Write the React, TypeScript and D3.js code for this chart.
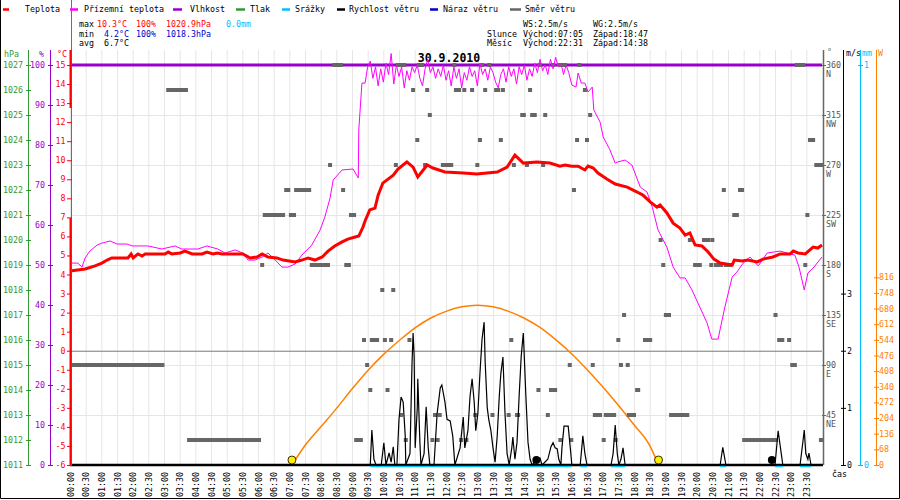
import React from 'react';
import * as d3 from 'd3';

// ---- data (time "HH:MM", value) ----
const tempData: [string, number][] = [
  ['00:00', 4.18], ['00:29', 4.29], ['00:48', 4.45], ['01:01', 4.6], ['01:11', 4.76], ['01:20', 4.87],
  ['01:51', 4.87], ['01:57', 5.08], ['02:01', 4.87], ['02:10', 5.08], ['02:18', 4.97], ['02:24', 5.08],
  ['03:02', 5.08], ['03:08', 5.18], ['03:15', 5.08], ['03:31', 5.13], ['03:40', 5.23], ['03:54', 5.08],
  ['04:13', 5.08], ['04:22', 5.18], ['04:34', 5.08], ['04:42', 5.13], ['04:51', 5.08], ['05:31', 5.08],
  ['05:45', 4.87], ['05:58', 4.92], ['06:08', 5.08], ['06:19', 4.92], ['06:36', 4.87], ['06:48', 4.76],
  ['07:11', 4.66], ['07:24', 4.76], ['07:36', 4.87], ['07:49', 4.76], ['08:03', 4.92], ['08:14', 5.23],
  ['08:27', 5.5], ['08:41', 5.71], ['08:52', 5.86], ['09:06', 5.97], ['09:13', 6.02], ['09:21', 6.49],
  ['09:25', 6.81], ['09:34', 7.39], ['09:44', 7.49], ['09:50', 8.17], ['09:59', 8.8], ['10:19', 9.22],
  ['10:28', 9.54], ['10:45', 9.91], ['10:57', 9.64], ['11:06', 9.12], ['11:24', 9.75], ['11:35', 9.59],
  ['11:58', 9.38], ['12:33', 9.33], ['12:59', 9.28], ['13:38', 9.38], ['13:57', 9.64], ['14:12', 10.27],
  ['14:28', 9.85], ['14:54', 9.91], ['15:19', 9.85], ['15:38', 9.69], ['15:48', 9.75], ['16:01', 9.69],
  ['16:13', 9.69], ['16:26', 9.49], ['16:32', 9.69], ['16:42', 9.59], ['16:51', 9.33], ['17:08', 9.01],
  ['17:24', 8.75], ['17:47', 8.59], ['18:06', 8.33], ['18:17', 8.17], ['18:31', 7.81], ['18:44', 7.54],
  ['18:50', 7.65], ['19:03', 7.23], ['19:15', 6.7], ['19:28', 6.44], ['19:38', 6.07], ['19:47', 6.18],
  ['19:57', 5.55], ['20:10', 5.5], ['20:22', 5.18], ['20:33', 4.81], ['20:45', 4.6], ['21:08', 4.5],
  ['21:12', 4.76], ['21:27', 4.71], ['21:38', 4.76], ['21:56', 4.66], ['22:07', 4.81], ['22:26', 4.92],
  ['22:40', 5.08], ['22:59', 5.08], ['23:05', 5.23], ['23:14', 5.13], ['23:28', 5.08], ['23:43', 5.44],
  ['23:52', 5.39], ['24:00', 5.55],
];

const groundTempData: [string, number][] = [
  ['00:00', 4.6], ['00:15', 4.6], ['00:23', 4.39], ['00:29', 4.87], ['00:38', 5.23], ['00:52', 5.55],
  ['01:01', 5.65], ['01:17', 5.76], ['01:30', 5.6], ['01:49', 5.6], ['01:59', 5.5], ['02:29', 5.5],
  ['02:56', 5.34], ['03:21', 5.5], ['03:34', 5.34], ['04:05', 5.34], ['04:22', 5.5], ['04:43', 5.34],
  ['04:57', 5.13], ['05:16', 5.29], ['05:31', 5.13], ['05:41', 4.76], ['05:54', 4.76], ['06:08', 4.92],
  ['06:19', 5.13], ['06:33', 4.76], ['06:46', 4.39], ['06:57', 4.39], ['07:11', 4.55], ['07:24', 5.02],
  ['07:43', 5.55], ['07:59', 6.34], ['08:08', 7.02], ['08:18', 8.02], ['08:24', 8.96], ['08:41', 9.49],
  ['09:02', 9.54], ['09:12', 9.07], ['09:13', 11.59], ['09:19', 14.05], ['09:25', 14.05],
  ['09:30', 14.9], ['09:35', 15.2], ['09:40', 14.3], ['09:45', 14.9], ['09:50', 13.9], ['09:55', 14.8],
  ['10:00', 14.1], ['10:05', 15.1], ['10:10', 14.5], ['10:15', 15.6], ['10:20', 14.0], ['10:25', 15.0],
  ['10:30', 14.4], ['10:35', 14.9], ['10:40', 13.8], ['10:45', 14.7], ['10:50', 14.2], ['10:55', 14.9],
  ['11:00', 14.6], ['11:05', 15.0], ['11:10', 14.3], ['11:15', 13.9], ['11:20', 14.8], ['11:25', 15.3],
  ['11:30', 14.6], ['11:35', 14.9], ['11:40', 14.3], ['11:45', 14.8], ['11:50', 14.4], ['11:55', 15.0],
  ['12:00', 14.2], ['12:05', 14.7], ['12:10', 13.9], ['12:15', 14.9], ['12:20', 14.3], ['12:25', 14.8],
  ['12:30', 13.8], ['12:35', 14.6], ['12:40', 14.2], ['12:45', 14.9], ['12:50', 14.4], ['12:55', 14.7],
  ['13:00', 13.9], ['13:05', 15.1], ['13:10', 14.5], ['13:15', 14.8], ['13:20', 14.2], ['13:25', 14.9],
  ['13:30', 14.6], ['13:35', 14.1], ['13:40', 13.8], ['13:45', 14.5], ['13:50', 14.8], ['13:55', 14.1],
  ['14:00', 14.9], ['14:05', 14.4], ['14:10', 14.8], ['14:15', 14.0], ['14:20', 14.9], ['14:25', 14.5],
  ['14:30', 15.0], ['14:35', 14.2], ['14:40', 14.8], ['14:45', 14.4], ['14:50', 15.1], ['14:55', 14.6],
  ['15:00', 15.3], ['15:05', 14.7], ['15:10', 15.0], ['15:15', 14.5], ['15:20', 15.3], ['15:25', 14.8],
  ['15:30', 15.4], ['15:35', 14.9], ['15:40', 15.1], ['15:45', 14.5], ['15:50', 15.0], ['15:55', 14.6],
  ['16:01', 13.95], ['16:09', 13.84], ['16:13', 14.58], ['16:19', 14.05], ['16:26', 14.05], ['16:32', 13.58],
  ['16:40', 13.84], ['16:43', 12.64], ['16:55', 12.01], ['17:01', 11.22], ['17:14', 10.54], ['17:24', 9.85],
  ['17:29', 9.91], ['17:43', 10.01], ['17:56', 9.75], ['18:12', 8.59], ['18:25', 8.33], ['18:35', 7.54],
  ['18:46', 6.34], ['19:03', 5.44], ['19:15', 4.39], ['19:28', 3.82], ['19:38', 3.82], ['19:51', 3.19],
  ['20:06', 2.29], ['20:20', 1.45], ['20:29', 0.61], ['20:41', 0.61], ['20:54', 2.29], ['21:08', 3.87],
  ['21:17', 4.13], ['21:29', 4.6], ['21:42', 4.92], ['21:58', 4.45], ['22:15', 5.13], ['22:40', 5.23],
  ['22:53', 5.13], ['23:08', 5.02], ['23:16', 4.39], ['23:26', 3.19], ['23:33', 4.08], ['23:43', 4.34],
  ['24:00', 4.92],
];

const humidityData: [string, number][] = [
  ['00:00', 100], ['06:00', 100], ['12:00', 100], ['18:00', 100], ['24:00', 100],
];

const windSpeedData: [string, number][] = [
  ['00:00', 0], ['09:35', 0], ['09:38', 0.61], ['09:42', 0.1], ['09:46', 0], ['09:56', 0], ['10:01', 0.39],
  ['10:05', 0], ['10:11', 0.21], ['10:15', 0.05], ['10:19', 0.32], ['10:22', 0], ['10:26', 0], ['10:30', 0.8],
  ['10:34', 1.19], ['10:38', 1.1], ['10:42', 0.5], ['10:43', 0], ['10:51', 0.2], ['10:55', 1.8], ['10:57', 2.31],
  ['10:59', 1.9], ['11:01', 0.3], ['11:05', 1.0], ['11:06', 1.51], ['11:10', 0.4], ['11:12', 0], ['11:18', 0.2],
  ['11:22', 1.02], ['11:26', 0.3], ['11:29', 0], ['11:37', 0], ['11:43', 0.9], ['11:49', 1.35], ['11:52', 1.4],
  ['11:58', 1.1], ['12:02', 0.8], ['12:08', 0.77], ['12:13', 0.5], ['12:17', 0], ['12:27', 0.3], ['12:33', 0.84],
  ['12:36', 0.3], ['12:42', 0.6], ['12:46', 1.2], ['12:50', 1.51], ['12:54', 1.1], ['12:57', 0.6], ['13:01', 0.9],
  ['13:05', 1.6], ['13:09', 2.2], ['13:13', 2.5], ['13:15', 1.8], ['13:19', 1.0], ['13:22', 0.79], ['13:26', 0.6],
  ['13:30', 0.3], ['13:34', 0.05], ['13:38', 0.5], ['13:42', 1.2], ['13:45', 1.6], ['13:49', 1.89], ['13:53', 0.9],
  ['13:57', 0.2], ['14:01', 0], ['14:06', 0.3], ['14:08', 0.49], ['14:12', 0.1], ['14:16', 0.4], ['14:20', 1.2],
  ['14:24', 1.9], ['14:28', 2.31], ['14:29', 2.1], ['14:33', 1.2], ['14:37', 0.4], ['14:41', 0.1], ['14:45', 0],
  ['14:50', 0.05], ['14:54', 0.1], ['15:00', 0.12], ['15:04', 0], ['15:15', 0.1], ['15:21', 0.32], ['15:25', 0.39],
  ['15:29', 0.3], ['15:33', 0.28], ['15:36', 0.1], ['15:40', 0], ['15:42', 0.3], ['15:46', 0.68], ['15:54', 0.68],
  ['15:58', 0.3], ['16:01', 0], ['16:17', 0], ['16:20', 0.3], ['16:22', 0.51], ['16:26', 0.2], ['16:30', 0],
  ['17:16', 0], ['17:20', 0.2], ['17:24', 0.7], ['17:28', 0.2], ['17:31', 0], ['17:35', 0.1], ['17:39', 0.3],
  ['17:43', 0], ['20:45', 0], ['20:50', 0.31], ['20:56', 0], ['22:30', 0], ['22:36', 0.6], ['22:42', 0.2],
  ['22:45', 0], ['23:18', 0], ['23:24', 0.45], ['23:26', 0.61], ['23:29', 0.2], ['23:33', 0.1], ['23:35', 0.21],
  ['23:39', 0], ['24:00', 0],
];

const solarData: [string, number][] = [
  ['07:05', 0], ['07:30', 85], ['08:00', 165], ['08:30', 245], ['09:00', 330], ['09:30', 410], ['10:00', 480],
  ['10:30', 540], ['11:00', 595], ['11:30', 638], ['12:00', 668], ['12:30', 688], ['13:00', 695], ['13:30', 688],
  ['14:00', 668], ['14:30', 638], ['15:00', 598], ['15:30', 545], ['16:00', 485], ['16:30', 415], ['17:00', 340],
  ['17:30', 260], ['18:00', 175], ['18:30', 85], ['18:47', 0],
];

// wind direction samples: [from, to, degrees]
const windDirRuns: [string, string, number][] = [
  ['00:04', '02:57', 90], ['03:08', '03:42', 337.5], ['03:48', '06:02', 22.5], ['06:08', '06:08', 180],
  ['06:13', '06:48', 225], ['06:54', '06:58', 247.5], ['07:03', '07:09', 225], ['07:13', '07:38', 247.5],
  ['07:43', '08:14', 180], ['08:18', '08:18', 270], ['08:26', '08:39', 360], ['08:43', '08:43', 247.5],
  ['08:49', '08:54', 180], ['08:58', '09:04', 225], ['09:08', '09:17', 22.5], ['09:23', '09:23', 112.5],
  ['09:29', '09:29', 90], ['09:35', '09:35', 67.5], ['09:38', '09:48', 112.5], ['09:58', '09:58', 157.5],
  ['10:03', '10:03', 112.5], ['10:08', '10:08', 67.5], ['10:15', '10:15', 112.5], ['10:19', '10:19', 157.5],
  ['10:24', '10:24', 270], ['10:28', '10:40', 360], ['10:34', '10:34', 45], ['10:43', '10:43', 22.5],
  ['10:50', '10:50', 112.5], ['10:57', '10:57', 337.5], ['11:05', '11:05', 292.5], ['11:08', '11:14', 360],
  ['11:20', '11:20', 270], ['11:24', '11:24', 337.5], ['11:29', '11:29', 315], ['11:34', '11:34', 22.5],
  ['11:39', '11:39', 45], ['11:44', '11:44', 22.5], ['11:48', '11:48', 45], ['11:54', '12:10', 270],
  ['12:16', '12:16', 360], ['12:19', '12:25', 337.5], ['12:29', '12:29', 22.5], ['12:35', '12:35', 337.5],
  ['12:39', '12:39', 22.5], ['12:50', '12:50', 337.5], ['12:56', '12:56', 45], ['13:00', '13:00', 270],
  ['13:05', '13:05', 292.5], ['13:09', '13:09', 360], ['13:15', '13:15', 337.5], ['13:23', '13:23', 360],
  ['13:29', '13:29', 45], ['13:36', '13:40', 337.5], ['13:45', '13:45', 292.5], ['13:49', '13:49', 337.5],
  ['14:00', '14:00', 45], ['14:05', '14:05', 112.5], ['14:10', '14:10', 270], ['14:16', '14:18', 45],
  ['14:26', '14:29', 315], ['14:35', '14:35', 270], ['14:41', '14:41', 337.5], ['14:45', '14:50', 315],
  ['14:57', '14:57', 67.5], ['14:59', '14:59', 360], ['15:06', '15:06', 270], ['15:10', '15:10', 315],
  ['15:15', '15:15', 45], ['15:21', '15:29', 67.5], ['15:25', '15:25', 360], ['15:38', '15:48', 360],
  ['15:39', '15:39', 22.5], ['15:57', '15:57', 90], ['16:00', '16:00', 22.5], ['16:05', '16:05', 247.5],
  ['16:11', '16:11', 292.5], ['16:15', '16:15', 360], ['16:26', '16:26', 337.5], ['16:30', '16:30', 292.5],
  ['16:36', '16:36', 315], ['16:41', '16:41', 90], ['16:45', '16:55', 45], ['17:02', '17:02', 22.5],
  ['17:06', '17:22', 45], ['17:25', '17:25', 22.5], ['17:30', '17:30', 112.5], ['17:35', '17:35', 90],
  ['17:41', '17:41', 135], ['17:48', '17:48', 90], ['17:50', '18:00', 45], ['18:06', '18:08', 67.5],
  ['18:21', '18:31', 112.5], ['18:51', '18:51', 202.5], ['18:56', '18:56', 180], ['19:01', '19:07', 135],
  ['19:11', '19:42', 45], ['19:47', '19:47', 202.5], ['19:57', '20:06', 180], ['20:14', '20:22', 202.5],
  ['20:28', '20:28', 180], ['20:30', '20:30', 202.5], ['20:37', '20:47', 180], ['20:52', '20:52', 247.5],
  ['20:56', '21:04', 180], ['21:12', '21:17', 225], ['21:23', '21:27', 247.5], ['21:31', '22:32', 22.5],
  ['22:31', '22:31', 135], ['22:38', '22:44', 112.5], ['22:57', '22:57', 112.5], ['23:03', '23:08', 90],
  ['23:12', '23:24', 360], ['23:28', '23:28', 180], ['23:32', '23:32', 225], ['23:37', '23:43', 292.5],
  ['23:49', '23:52', 270], ['23:58', '23:58', 270], ['23:58', '23:58', 22.5],
];

const sunEvents = ['07:05', '18:47'];
const moonMarks = ['14:53', '22:24'];

const pressureTicks = d3.range(1011, 1028, 1);
const humidityTicks = d3.range(0, 101, 10);
const tempTicks = d3.range(-6, 16, 1);
const dirTicks = [45, 90, 135, 180, 225, 270, 315, 360];
const dirNames = ['NE', 'E', 'SE', 'S', 'SW', 'W', 'NW', 'N'];
const speedTicks = [0, 1, 2, 3];
const rainTicks = [0, 1];
const solarTicks = d3.range(0, 817, 68);
const timeTicks = d3.range(0, 1440, 30);

const legendItems = [
  { label: 'Teplota', color: '#ff0000', sx: 3, sw: 6, tx: 25 },
  { label: 'Přízemní teplota', color: '#ff00ff', sx: 70, sw: 8, tx: 84 },
  { label: 'Vlhkost', color: '#9900cc', sx: 173, sw: 9, tx: 190 },
  { label: 'Tlak', color: '#339933', sx: 236, sw: 9, tx: 250 },
  { label: 'Srážky', color: '#00bfff', sx: 282, sw: 8, tx: 295 },
  { label: 'Rychlost větru', color: '#000000', sx: 337, sw: 8, tx: 349 },
  { label: 'Náraz větru', color: '#0000cc', sx: 430, sw: 8, tx: 443 },
  { label: 'Směr větru', color: '#666666', sx: 510, sw: 11, tx: 525 },
];

const toMin = (t: string) => {
  const [h, m] = t.split(':').map(Number);
  return h * 60 + m;
};
const fmt = (m: number) =>
  `${String(Math.floor(m / 60)).padStart(2, '0')}:${String(m % 60).padStart(2, '0')}`;

const PL = 70, PR = 822, PT = 65, PB = 465;

const x = d3.scaleLinear().domain([0, 1440]).range([PL, PR]);
const yT = d3.scaleLinear().domain([-6, 15]).range([PB, PT]);
const yH = d3.scaleLinear().domain([0, 100]).range([PB, PT]);
const yP = d3.scaleLinear().domain([1011, 1027]).range([PB, PT]);
const yDir = d3.scaleLinear().domain([0, 360]).range([PB, PT]);
const yWs = d3.scaleLinear().domain([0, 7]).range([PB, PT]);
const yMm = d3.scaleLinear().domain([0, 1]).range([PB, PT]);
const ySol = d3.scaleLinear().domain([0, 1739]).range([PB, PT]);

function path(data: [string, number][], y: d3.ScaleLinear<number, number>, curve = d3.curveLinear) {
  return d3.line<[string, number]>()
    .x(d => x(toMin(d[0])))
    .y(d => y(d[1]))
    .curve(curve)(data) || '';
}

export default function App() {
  const mono = "'DejaVu Sans Mono', monospace";

  // precipitation baseline (0.0 mm) visible where the wind trace leaves the axis
  const rainSegs: [number, number][] = [];
  for (let i = 1; i < windSpeedData.length; i++) {
    const a = windSpeedData[i - 1], b = windSpeedData[i];
    const gap = toMin(b[0]) - toMin(a[0]);
    if (a[1] > 0 || b[1] > 0 || (gap <= 12 && toMin(a[0]) > 570)) rainSegs.push([toMin(a[0]), toMin(b[0])]);
  }

  return (
    <svg width={900} height={500} style={{ position: 'absolute', left: 0, top: 0, background: '#fff' }}
      fontFamily={mono} fontSize={8.3}>
      <rect x={0} y={0} width={900} height={500} fill="#fff" />
      {/* frame */}
      <path d="M0.5,0 V498.5 H899.5 V0" fill="none" stroke="#000" />

      {/* legend */}
      {legendItems.map(it => (
        <g key={it.label}>
          <line x1={it.sx} x2={it.sx + it.sw} y1={9.5} y2={9.5} stroke={it.color} strokeWidth={2.5} />
          <text x={it.tx} y={12} fill="#000">{it.label}</text>
        </g>
      ))}

      {/* info block */}
      <g>
        <text x={79} y={27}>max</text>
        <text x={97} y={27} fill="#ff0000">10.3°C</text>
        <text x={136} y={27} fill="#ff0000">100%</text>
        <text x={166} y={27} fill="#ff0000">1020.9hPa</text>
        <text x={226} y={27} fill="#00bfff">0.0mm</text>
        <text x={79} y={37}>min</text>
        <text x={104} y={37} fill="#0000cc">4.2°C</text>
        <text x={136} y={37} fill="#0000cc">100%</text>
        <text x={166} y={37} fill="#0000cc">1018.3hPa</text>
        <text x={79} y={46}>avg</text>
        <text x={104} y={46}>6.7°C</text>
        <text x={523} y={27}>WS:2.5m/s</text>
        <text x={593} y={27}>WG:2.5m/s</text>
        <text x={487} y={37}>Slunce</text>
        <text x={523} y={37}>Východ:07:05</text>
        <text x={593} y={37}>Západ:18:47</text>
        <text x={487} y={46}>Měsíc</text>
        <text x={523} y={46}>Východ:22:31</text>
        <text x={593} y={46}>Západ:14:38</text>
      </g>

      {/* grid */}
      {timeTicks.map(m => (
        <line key={'v' + m} x1={x(m) + 0.5} x2={x(m) + 0.5} y1={50} y2={PB} stroke="#e6e6e6" />
      ))}
      {dirTicks.filter(d => d < 360).map(d => (
        <line key={'h' + d} x1={PL} x2={PR} y1={yDir(d) + 0.5} y2={yDir(d) + 0.5} stroke="#e6e6e6" />
      ))}
      <line x1={PL} x2={PR} y1={yT(0) + 0.5} y2={yT(0) + 0.5} stroke="#777" />

      {/* title */}
      <text x={449} y={62} textAnchor="middle" fontSize={11.5} fontWeight="bold" fill="#000">30.9.2010</text>

      {/* solar */}
      <path d={path(solarData, ySol, d3.curveMonotoneX)} fill="none" stroke="#ff8000" strokeWidth={1.5} />

      {/* humidity */}
      <path d={path(humidityData, yH)} fill="none" stroke="#9900cc" strokeWidth={3} />

      {/* wind direction */}
      {windDirRuns.map((r, i) => {
        const a = x(toMin(r[0])), b = x(toMin(r[1]));
        return <rect key={'d' + i} x={a - 2} y={yDir(r[2]) - 2} width={b - a + 4} height={4} fill="#666" />;
      })}

      {/* time axis base */}
      <line x1={PL} x2={PR + 1} y1={PB} y2={PB} stroke="#000" strokeWidth={2.5} />
      {rainSegs.map((s, i) => (
        <line key={'r' + i} x1={x(s[0])} x2={x(s[1])} y1={yMm(0) + 1.5} y2={yMm(0) + 1.5} stroke="#00bfff" strokeWidth={1.5} />
      ))}

      {/* wind speed */}
      <path d={path(windSpeedData, yWs)} fill="none" stroke="#000" strokeWidth={1.2} />

      {/* ground temperature */}
      <path d={path(groundTempData, yT)} fill="none" stroke="#ff00ff" strokeWidth={1} />

      {/* temperature */}
      <path d={path(tempData, yT)} fill="none" stroke="#ff0000" strokeWidth={3} />

      {/* sun and moon markers */}
      {sunEvents.map(t => (
        <circle key={t} cx={x(toMin(t))} cy={460} r={4} fill="#ffee00" stroke="#000" strokeWidth={0.8} />
      ))}
      {moonMarks.map(t => (
        <circle key={t} cx={x(toMin(t))} cy={460} r={4} fill="#000" />
      ))}

      {/* left axes */}
      <line x1={28.5} x2={28.5} y1={50} y2={PB} stroke="#339933" />
      {pressureTicks.map(v => (
        <g key={'p' + v}>
          <line x1={26} x2={31} y1={yP(v) + 0.5} y2={yP(v) + 0.5} stroke="#339933" />
          <text x={23} y={yP(v) + 3} textAnchor="end" fill="#339933">{v}</text>
        </g>
      ))}
      <text x={4} y={57} fill="#339933">hPa</text>

      <line x1={50.5} x2={50.5} y1={50} y2={PB} stroke="#9900cc" />
      {humidityTicks.map(v => (
        <g key={'u' + v}>
          <line x1={48} x2={53} y1={yH(v) + 0.5} y2={yH(v) + 0.5} stroke="#9900cc" />
          <text x={45} y={yH(v) + 3} textAnchor="end" fill="#9900cc">{v}</text>
        </g>
      ))}
      <text x={39} y={57} fill="#9900cc">%</text>

      <line x1={71.5} x2={71.5} y1={0} y2={PB} stroke="#339933" />
      <line x1={70.5} x2={70.5} y1={50} y2={108} stroke="#ff0000" strokeWidth={2} />
      <line x1={70.5} x2={70.5} y1={218} y2={PB} stroke="#ff0000" strokeWidth={2} />
      {tempTicks.map(v => (
        <g key={'t' + v}>
          <line x1={67} x2={72} y1={yT(v) + 0.5} y2={yT(v) + 0.5} stroke="#ff0000" />
          <text x={65.5} y={yT(v) + 3} textAnchor="end" fill="#ff0000">{v}</text>
        </g>
      ))}
      <text x={57} y={57} fill="#ff0000">°C</text>

      {/* right axes */}
      <line x1={823.5} x2={823.5} y1={50} y2={PB} stroke="#666" strokeWidth={1.5} />
      {dirTicks.map((d, i) => (
        <g key={'dt' + d} fill="#555">
          <line x1={822} x2={826} y1={yDir(d) + 0.5} y2={yDir(d) + 0.5} stroke="#666" />
          <text x={826} y={yDir(d) + 2.5}>{d}</text>
          <text x={826} y={yDir(d) + 12}>{dirNames[i]}</text>
        </g>
      ))}
      <text x={827} y={55} fill="#666">°</text>

      <line x1={843.5} x2={843.5} y1={50} y2={PB} stroke="#000" />
      {speedTicks.map(v => (
        <g key={'s' + v}>
          <line x1={841} x2={846} y1={yWs(v) + 0.5} y2={yWs(v) + 0.5} stroke="#000" />
          <text x={847} y={yWs(v) + 3}>{v}</text>
        </g>
      ))}
      <text x={846} y={56}>m/s</text>

      <line x1={860.5} x2={860.5} y1={50} y2={PB} stroke="#00bfff" strokeWidth={1.2} />
      {rainTicks.map(v => (
        <g key={'mm' + v} fill="#00bfff">
          <line x1={858} x2={863} y1={yMm(v) + 0.5} y2={yMm(v) + 0.5} stroke="#00bfff" />
          <text x={864} y={yMm(v) + 3}>{v}</text>
        </g>
      ))}
      <text x={862} y={56} fill="#00bfff">mm</text>

      <line x1={876.5} x2={876.5} y1={50} y2={PB} stroke="#ff8000" />
      {solarTicks.map(v => (
        <g key={'w' + v} fill="#ff8000">
          <line x1={874} x2={879} y1={ySol(v) + 0.5} y2={ySol(v) + 0.5} stroke="#ff8000" />
          <text x={879} y={ySol(v) + 3}>{v}</text>
        </g>
      ))}
      <text x={878} y={56} fill="#ff8000">W</text>

      {/* time labels */}
      {timeTicks.map(m => (
        <text key={'tl' + m} transform={`translate(${x(m) + 3.5},497) rotate(-90)`} fill="#000">{fmt(m)}</text>
      ))}
      <text x={832} y={477}>čas</text>
    </svg>
  );
}
